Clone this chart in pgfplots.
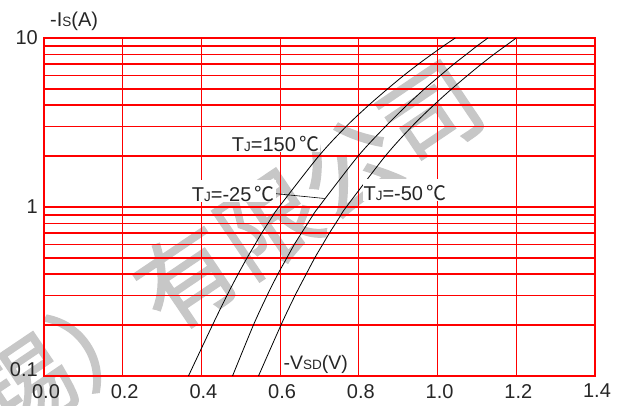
\documentclass[border=0pt]{standalone}
\usepackage{fontspec}
\setmainfont{Liberation Sans}
\newfontfamily\cjk{Noto Sans CJK SC}
\newfontfamily\cjkwm[FakeBold=1.3]{Noto Sans CJK SC}
\usepackage{pgfplots}
\pgfplotsset{compat=1.18}
\newcommand{\sm}[1]{{\fontsize{13.5}{13.5}\selectfont #1}}
\begin{document}
\begin{tikzpicture}
\useasboundingbox (-44pt,-29pt) rectangle (578pt,376pt);
\node[rotate=34, text=black!22, font=\cjkwm\fontsize{98}{98}\selectfont, inner sep=0pt] at (183pt,126pt) {锡）有限公司};
\begin{axis}[
  at={(0pt,0pt)}, anchor=south west,
  scale only axis, width=551pt, height=338pt,
  xmin=0, xmax=1.4, ymin=0.1, ymax=10, ymode=log,
  enlargelimits=false,
  xtick={0,0.2,0.4,0.6,0.8,1.0,1.2,1.4},
  xticklabels={0.0,0.2,0.4,0.6,0.8,1.0,1.2,1.4},
  ytick={1,10}, yticklabels={1,10},
  minor ytick={0.2,0.3,0.4,0.5,0.6,0.7,0.8,0.9,2,3,4,5,6,7,8,9},
  extra y ticks={0.1}, extra y tick labels={0.1},
  extra y tick style={yticklabel style={yshift=6pt}},
  ymajorgrids, yminorgrids,
  major grid style={red, line width=1.6pt},
  minor grid style={red, line width=1.6pt},
  extra x ticks={0.2,0.4,0.6,0.8,1.0,1.2},
  extra x tick labels={},
  extra x tick style={xmajorgrids=true, major grid style={red, line width=1pt}},
  axis line style={red, line width=1.6pt},
  major tick length=0pt, minor tick length=0pt,
  /pgf/number format/assume math mode=true,
  tick label style={font=\fontsize{20}{24}\selectfont, text=black!85, inner sep=0pt},
  xticklabel style={anchor=north, yshift=-8pt, xshift=2pt},
  yticklabel style={anchor=east, xshift=-6pt},
  clip=false,
]
% TJ = 150 C
\addplot[black, line width=0.8pt, smooth] coordinates {
(0.367,0.1) (0.428,0.2) (0.465,0.3) (0.493,0.4) (0.516,0.5) (0.536,0.6) (0.553,0.7) (0.569,0.8) (0.583,0.9) (0.597,1) (0.698,2) (0.768,3) (0.825,4) (0.873,5) (0.914,6) (0.951,7) (0.985,8) (1.016,9) (1.045,10)};
% TJ = -25 C
\addplot[black, line width=0.8pt, smooth] coordinates {
(0.479,0.1) (0.532,0.2) (0.567,0.3) (0.594,0.4) (0.617,0.5) (0.636,0.6) (0.654,0.7) (0.670,0.8) (0.684,0.9) (0.698,1) (0.798,2) (0.868,3) (0.922,4) (0.967,5) (1.007,6) (1.041,7) (1.073,8) (1.101,9) (1.128,10)};
% TJ = -50 C
\addplot[black, line width=0.8pt, smooth] coordinates {
(0.545,0.1) (0.602,0.2) (0.638,0.3) (0.666,0.4) (0.688,0.5) (0.708,0.6) (0.725,0.7) (0.741,0.8) (0.755,0.9) (0.768,1) (0.867,2) (0.935,3) (0.990,4) (1.036,5) (1.076,6) (1.111,7) (1.143,8) (1.173,9) (1.200,10)};
\draw[black, line width=0.6pt] (axis cs:0.588,1.2) -- (axis cs:0.713,1.123);
\node[anchor=base west, fill=white, inner xsep=1pt, inner ysep=0pt, text height=21.5pt, text depth=0pt, font=\fontsize{20}{24}\selectfont, text=black!85] at (axis cs:0.4745,2.13) {T\sm{J}=150\,{\cjk ℃}};
\node[anchor=base west, fill=white, inner xsep=1pt, inner ysep=0pt, text height=21.5pt, text depth=0pt, font=\fontsize{20}{24}\selectfont, text=black!85] at (axis cs:0.3728,1.075) {T\sm{J}=-25\,{\cjk ℃}};
\node[anchor=base west, fill=white, inner xsep=1pt, inner ysep=0pt, text height=21.5pt, text depth=0pt, font=\fontsize{20}{24}\selectfont, text=black!85] at (axis cs:0.8089,1.09) {T\sm{J}=-50\,{\cjk ℃}};
\node[anchor=base west, inner sep=0pt, font=\fontsize{19.5}{23}\selectfont, text=black!85] at (axis cs:0.6083,0.1096) {-V\sm{SD}(V)};
\end{axis}
\node[anchor=base west, inner sep=0pt, font=\fontsize{20}{24}\selectfont, text=black!85] at (6pt,349.3pt) {-I\sm{S}(A)};
\end{tikzpicture}
\end{document}
